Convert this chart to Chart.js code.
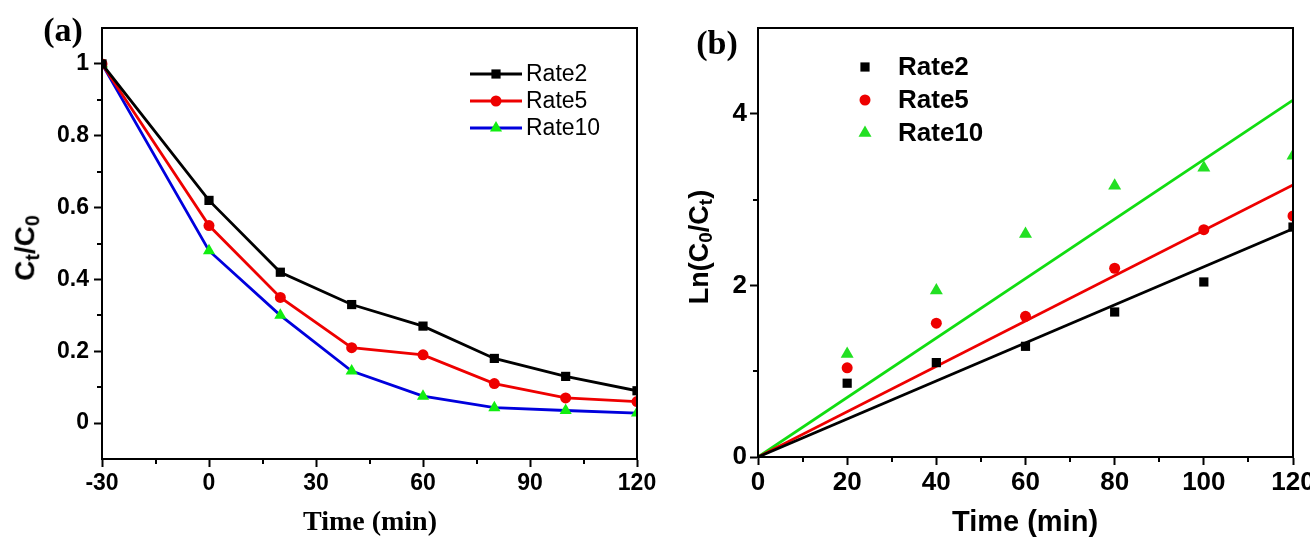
<!DOCTYPE html>
<html lang="en">
<head>
<meta charset="UTF-8">
<title>Degradation kinetics</title>
<script src="https://cdn.jsdelivr.net/npm/chart.js"></script>
<style>
  html, body { margin: 0; padding: 0; background: #fff; overflow: hidden; }
  body { width: 1310px; height: 537px; position: relative; }
  canvas { position: absolute; top: 0; }
  #chartA { left: 0; }
  #chartB { left: 655px; }
  .txt { position: absolute; white-space: nowrap; color: #000; line-height: 1; transform: translate(-50%, -50%); }
  .rot { transform: translate(-50%, -50%) rotate(-90deg); }
  .sans { font-family: "Liberation Sans", Arial, sans-serif; font-weight: bold; }
  .serif { font-family: "Liberation Serif", "Times New Roman", serif; font-weight: bold; }
  sub { font-size: 70%; vertical-align: -0.25em; }
</style>
</head>
<body>
<canvas id="chartA" width="660" height="537"></canvas>
<canvas id="chartB" width="690" height="537"></canvas>

<div class="txt serif" style="left:63px; top:30px; font-size:34px;">(a)</div>
<div class="txt sans rot" style="left:27px; top:248px; font-size:28px;">C<sub>t</sub>/C<sub>0</sub></div>
<div class="txt serif" style="left:370px; top:521px; font-size:28px;">Time (min)</div>

<div class="txt serif" style="left:717px; top:43px; font-size:34px;">(b)</div>
<div class="txt sans rot" style="left:701px; top:247px; font-size:27px;">Ln(C<sub>0</sub>/C<sub>t</sub>)</div>
<div class="txt sans" style="left:1025px; top:521px; font-size:29px;">Time (min)</div>

<script>
// (a) relative concentration vs time
const TIME_A = [-30, 0, 20, 40, 60, 80, 100, 120];
const RATE2_A = [1, 0.62, 0.42, 0.33, 0.27, 0.18, 0.13, 0.09];
const RATE5_A = [1, 0.55, 0.35, 0.21, 0.19, 0.11, 0.07, 0.06];
const RATE10_A = [1, 0.48, 0.30, 0.145, 0.075, 0.043, 0.035, 0.028];

// (b) ln(C0/Ct) points and linear fits
const TIME_B = [20, 40, 60, 80, 100, 120];
const RATE2_B = [0.86, 1.10, 1.29, 1.69, 2.04, 2.68];
const RATE5_B = [1.04, 1.56, 1.64, 2.20, 2.65, 2.81];
const RATE10_B = [1.20, 1.94, 2.60, 3.16, 3.37, 3.51];
const FIT_TIME = [0, 120];
const FIT2 = [0, 2.66];
const FIT5 = [0, 3.17];
const FIT10 = [0, 4.16];

const SERIES = ['Rate2', 'Rate5', 'Rate10'];

const X_TICKS_A = [-30, 0, 30, 60, 90, 120];
const X_MINOR_A = [-15, 15, 45, 75, 105];
const Y_TICKS_A = [0, 0.2, 0.4, 0.6, 0.8, 1];
const Y_LABELS_A = ['0', '0.2', '0.4', '0.6', '0.8', '1'];
const Y_MINOR_A = [0.1, 0.3, 0.5, 0.7, 0.9];

const X_TICKS_B = [0, 20, 40, 60, 80, 100, 120];
const X_MINOR_B = [10, 30, 50, 70, 90, 110];
const Y_TICKS_B = [0, 2, 4];
const Y_MINOR_B = [1, 3];

const pts = (xs, ys) => xs.map((x, i) => ({ x: x, y: ys[i] }));
const SANS = '"Liberation Sans", Arial, sans-serif';

function drawMarker(ctx, style, x, y, r, color) {
  ctx.save();
  ctx.fillStyle = color;
  ctx.beginPath();
  if (style === 'rect') {
    const s = Math.SQRT1_2 * r;
    ctx.rect(x - s, y - s, 2 * s, 2 * s);
  } else if (style === 'triangle') {
    let a = 0;
    ctx.moveTo(x + Math.sin(a) * r, y - Math.cos(a) * r);
    a += 2 * Math.PI / 3;
    ctx.lineTo(x + Math.sin(a) * r, y - Math.cos(a) * r);
    a += 2 * Math.PI / 3;
    ctx.lineTo(x + Math.sin(a) * r, y - Math.cos(a) * r);
    ctx.closePath();
  } else {
    ctx.arc(x, y, r, 0, Math.PI * 2);
  }
  ctx.fill();
  ctx.restore();
}

// box frame, minor ticks and the legend
const decor = {
  id: 'decor',
  afterDraw(chart, args, opts) {
    const ctx = chart.ctx;
    const a = chart.chartArea;
    const xs = chart.scales.x, ys = chart.scales.y;
    ctx.save();
    ctx.strokeStyle = '#000';
    ctx.lineWidth = 2;
    ctx.strokeRect(a.left, a.top, a.right - a.left, a.bottom - a.top);
    ctx.beginPath();
    opts.minorX.forEach(v => {
      const px = Math.round(xs.getPixelForValue(v));
      ctx.moveTo(px, a.bottom);
      ctx.lineTo(px, a.bottom + opts.minorLen);
    });
    opts.minorY.forEach(v => {
      const py = Math.round(ys.getPixelForValue(v));
      ctx.moveTo(a.left, py);
      ctx.lineTo(a.left - opts.minorLen, py);
    });
    ctx.stroke();

    const lg = opts.legend;
    ctx.font = lg.font;
    ctx.textBaseline = 'middle';
    ctx.textAlign = 'left';
    lg.items.forEach((it, i) => {
      const y = lg.rows[i];
      const ds = chart.data.datasets[it];
      if (lg.line) {
        ctx.strokeStyle = ds.borderColor;
        ctx.lineWidth = ds.borderWidth;
        ctx.beginPath();
        ctx.moveTo(lg.lineX[0], y);
        ctx.lineTo(lg.lineX[1], y);
        ctx.stroke();
      }
      drawMarker(ctx, ds.pointStyle, lg.markX, y, ds.pointRadius, ds.pointBackgroundColor);
      ctx.fillStyle = '#000';
      ctx.fillText(ds.label, lg.textX, y + 1);
    });
    ctx.restore();
  }
};

function axis(min, max, ticks, labels, font, tickLen, pad, fit) {
  return {
    type: 'linear',
    min: min,
    max: max,
    afterBuildTicks: s => { s.ticks = ticks.map(v => ({ value: v })); },
    afterFit: fit,
    grid: { display: true, drawOnChartArea: false, drawTicks: true, tickLength: tickLen, tickWidth: 2, tickColor: '#000' },
    border: { display: true, color: '#000', width: 2 },
    ticks: {
      color: '#000',
      padding: pad,
      maxRotation: 0,
      autoSkip: false,
      font: font,
      callback: v => labels[ticks.indexOf(v)]
    }
  };
}

const fontA = { family: SANS, size: 23, weight: 'bold' };
const fontB = { family: SANS, size: 26, weight: 'bold' };

new Chart(document.getElementById('chartA'), {
  type: 'line',
  data: {
    datasets: [
      { label: SERIES[0], data: pts(TIME_A, RATE2_A), borderColor: '#000000', pointBackgroundColor: '#000000',
        pointBorderColor: '#000000', pointStyle: 'rect', pointRadius: 6.5 },
      { label: SERIES[1], data: pts(TIME_A, RATE5_A), borderColor: '#ee0000', pointBackgroundColor: '#ee0000',
        pointBorderColor: '#ee0000', pointStyle: 'circle', pointRadius: 5.5 },
      { label: SERIES[2], data: pts(TIME_A, RATE10_A), borderColor: '#0000dd', pointBackgroundColor: '#11ee11',
        pointBorderColor: '#11ee11', pointStyle: 'triangle', pointRadius: 7 }
    ].map(d => Object.assign({ borderWidth: 2.8, pointBorderWidth: 0, tension: 0, fill: false }, d))
  },
  options: {
    responsive: false,
    animation: false,
    layout: { padding: { left: 0, top: 28, right: 23, bottom: 0 } },
    plugins: {
      legend: { display: false },
      tooltip: { enabled: false },
      decor: {
        minorX: X_MINOR_A, minorY: Y_MINOR_A, minorLen: 5,
        legend: { line: true, lineX: [470, 522], markX: 496, textX: 526, rows: [74, 101, 128],
                  items: [0, 1, 2], font: '23px ' + SANS }
      }
    },
    scales: {
      x: axis(-30, 120, X_TICKS_A, X_TICKS_A.map(String), fontA, 8, 3, s => { s.height = 78; }),
      y: axis(-0.1, 1.1, Y_TICKS_A, Y_LABELS_A, fontA, 8, 5, s => { s.width = 102; })
    }
  },
  plugins: [decor]
});

new Chart(document.getElementById('chartB'), {
  type: 'scatter',
  data: {
    datasets: [
      { label: SERIES[0], data: pts(TIME_B, RATE2_B), pointBackgroundColor: '#000000', pointStyle: 'rect', pointRadius: 6.5 },
      { label: SERIES[1], data: pts(TIME_B, RATE5_B), pointBackgroundColor: '#ee0000', pointStyle: 'circle', pointRadius: 5.5 },
      { label: SERIES[2], data: pts(TIME_B, RATE10_B), pointBackgroundColor: '#22e022', pointStyle: 'triangle', pointRadius: 7.5 },
      { label: 'fit2', data: pts(FIT_TIME, FIT2), borderColor: '#000000' },
      { label: 'fit5', data: pts(FIT_TIME, FIT5), borderColor: '#ee0000' },
      { label: 'fit10', data: pts(FIT_TIME, FIT10), borderColor: '#11dd11' }
    ].map((d, i) => i < 3
      ? Object.assign({ showLine: false, pointBorderWidth: 0 }, d)
      : Object.assign({ showLine: true, borderWidth: 2.8, pointRadius: 0, tension: 0 }, d))
  },
  options: {
    responsive: false,
    animation: false,
    layout: { padding: { left: 0, top: 28, right: 52, bottom: 0 } },
    plugins: {
      legend: { display: false },
      tooltip: { enabled: false },
      decor: {
        minorX: X_MINOR_B, minorY: Y_MINOR_B, minorLen: 5,
        legend: { line: false, markX: 210, textX: 243, rows: [67, 100, 133],
                  items: [0, 1, 2], font: 'bold 26px ' + SANS }
      }
    },
    scales: {
      x: axis(0, 120, X_TICKS_B, X_TICKS_B.map(String), fontB, 8, 2, s => { s.height = 80; }),
      y: axis(0, 5, Y_TICKS_B, Y_TICKS_B.map(String), fontB, 8, 3, s => { s.width = 103; })
    }
  },
  plugins: [decor]
});
</script>
</body>
</html>
